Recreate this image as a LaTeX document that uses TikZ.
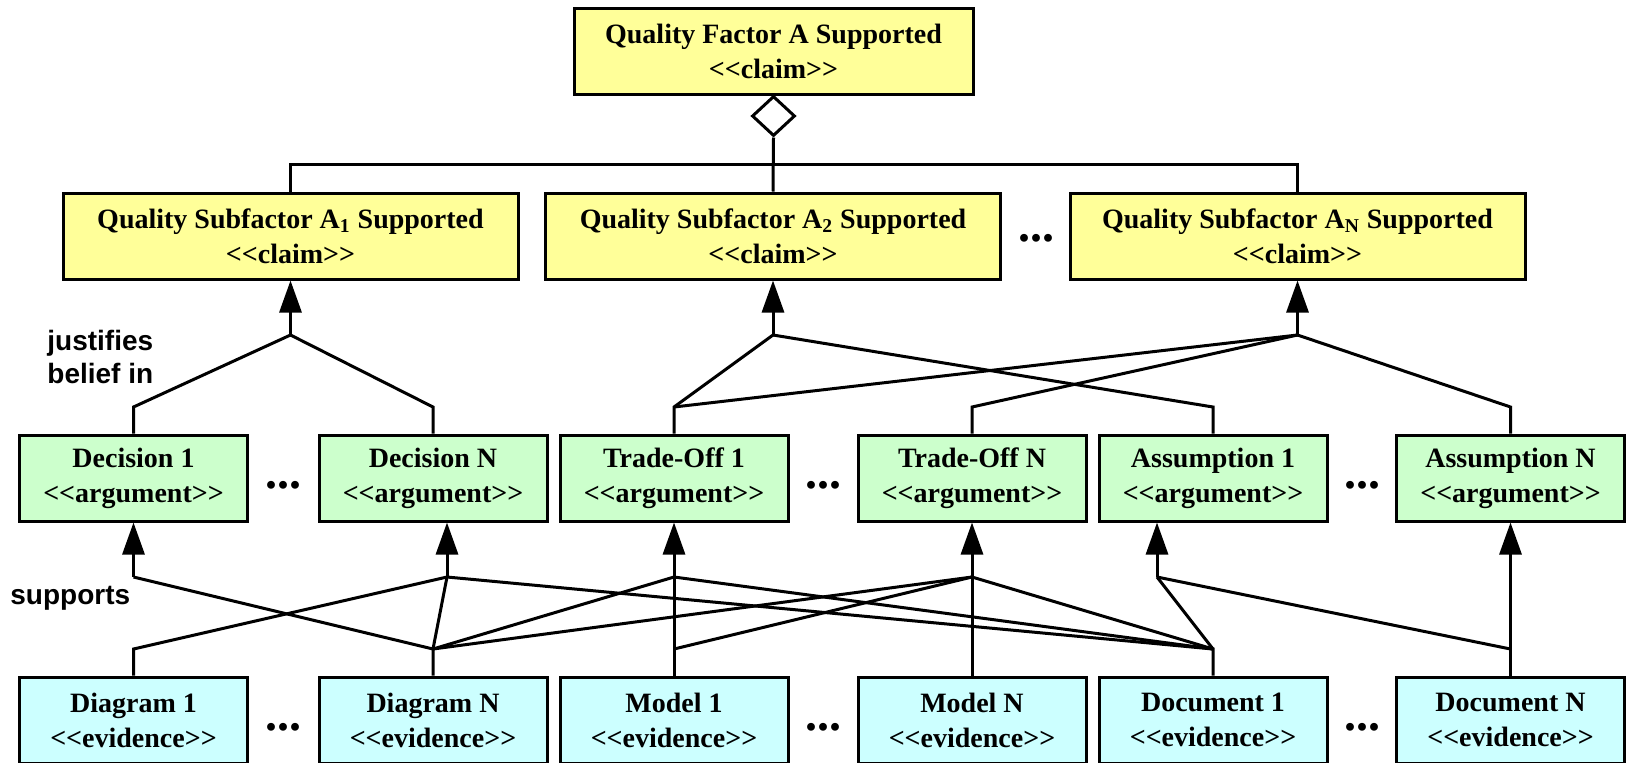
\documentclass[tikz,border=0pt]{standalone}
\usepackage{fontspec}
\setmainfont{Liberation Serif}[Ligatures=TeXOff]
\setsansfont{Liberation Sans}
\usepackage{tikz}
\usetikzlibrary{arrows.meta}
\usetikzlibrary{shapes.geometric}
\definecolor{claimyellow}{HTML}{FFFF99}
\definecolor{arggreen}{HTML}{CCFFCC}
\definecolor{evidcyan}{HTML}{CCFFFF}

\begin{document}
\begin{tikzpicture}[x=0.5pt, y=-0.5pt,
			boxnode/.style={draw, line width=1.5pt, align=center, inner sep=0pt, minimum height=43pt, font=\fontsize{14pt}{17.5pt}\selectfont\bfseries},
			claimnode/.style={boxnode, fill=claimyellow, minimum width=227.5pt},
			argnode/.style={boxnode, fill=arggreen, minimum width=114pt},
			evidnode/.style={boxnode, fill=evidcyan, minimum width=114pt},
			conn/.style={line width=1.5pt},
			arr/.style={conn, -{Triangle[length=16pt, width=11pt]}},
			dots/.style={font=\fontsize{24pt}{24pt}\selectfont\bfseries, inner sep=0pt},
			lbl/.style={font=\fontsize{14pt}{16.5pt}\selectfont\sffamily\bfseries, align=left, inner sep=0pt, anchor=west}
		]
		\useasboundingbox (0,0) rectangle (1631,762);

		\node[claimnode, minimum width=199.5pt] (qa) at (773.5,51) {Quality Factor A Supported\\<<claim>>};
		\node[draw, line width=1.5pt, fill=white, diamond, inner sep=0pt, minimum width=21.5pt, minimum height=20pt] (agg) at (773.5,116) {};

		\node[claimnode] (qa1) at (290.5,236) {Quality Subfactor A\textsubscript{1} Supported\\<<claim>>};
		\node[claimnode] (qa2) at (773,236) {Quality Subfactor A\textsubscript{2} Supported\\<<claim>>};
		\node[claimnode] (qan) at (1297.5,236) {Quality Subfactor A\textsubscript{N} Supported\\<<claim>>};
		\node[dots] (dq) at (1036,238) {...};

		\node[argnode] (dec1) at (133.5,478) {Decision 1\\<<argument>>};
		\node[argnode] (decn) at (433,478) {Decision N\\<<argument>>};
		\node[argnode] (tro1) at (674,478) {Trade-Off 1\\<<argument>>};
		\node[argnode] (tron) at (972,478) {Trade-Off N\\<<argument>>};
		\node[argnode] (asm1) at (1213,478) {Assumption 1\\<<argument>>};
		\node[argnode] (asmn) at (1510.5,478) {Assumption N\\<<argument>>};
		\node[dots] (da1) at (283,485) {...};
		\node[dots] (da2) at (823,485) {...};
		\node[dots] (da3) at (1362,485) {...};

		\node[evidnode] (dia1) at (133.5,720) {Diagram 1\\<<evidence>>};
		\node[evidnode] (dian) at (433,720) {Diagram N\\<<evidence>>};
		\node[evidnode] (mod1) at (674,720) {Model 1\\<<evidence>>};
		\node[evidnode] (modn) at (972,720) {Model N\\<<evidence>>};
		\node[evidnode] (doc1) at (1213,720) {Document 1\\<<evidence>>};
		\node[evidnode] (docn) at (1510.5,720) {Document N\\<<evidence>>};
		\node[dots] (de1) at (283,727) {...};
		\node[dots] (de2) at (823,727) {...};
		\node[dots] (de3) at (1362,727) {...};

		\node[lbl] (just) at (47,357) {justifies\\belief in};
		\node[lbl] (supp) at (10,598) {supports};

		\coordinate (bar) at (0,164);
		\coordinate (urow) at (0,407);
		\coordinate (lrow) at (0,649);
		\coordinate (ja1) at (290.5,335);
		\coordinate (ja2) at (773,335);
		\coordinate (jan) at (1297.5,335);
		\coordinate (jd1) at (133.5,577);
		\coordinate (jdn) at (447,577);
		\coordinate (jt1) at (674,577);
		\coordinate (jtn) at (972,577);
		\coordinate (js1) at (1157,577);
		\coordinate (jsn) at (1510.5,577);

		\coordinate (udec1) at (dec1.north |- urow);
		\coordinate (udecn) at (decn.north |- urow);
		\coordinate (utro1) at (tro1.north |- urow);
		\coordinate (utron) at (tron.north |- urow);
		\coordinate (uasm1) at (asm1.north |- urow);
		\coordinate (uasmn) at (asmn.north |- urow);
		\coordinate (ldia1) at (dia1.north |- lrow);
		\coordinate (ldian) at (dian.north |- lrow);
		\coordinate (lmod1) at (mod1.north |- lrow);
		\coordinate (ldoc1) at (doc1.north |- lrow);
		\coordinate (ldocn) at (docn.north |- lrow);

		\draw[conn] (agg.south) -- (qa2.north);
		\draw[conn] (qa1.north) -- (qa1.north |- bar) -- (qan.north |- bar) -- (qan.north);

		\draw[arr] (ja1) -- (qa1.south);
		\draw[arr] (ja2) -- (qa2.south);
		\draw[arr] (jan) -- (qan.south);

		\draw[conn] (dec1.north) -- (udec1) -- (ja1);
		\draw[conn] (decn.north) -- (udecn) -- (ja1);
		\draw[conn] (tro1.north) -- (utro1) -- (ja2);
		\draw[conn] (utro1) -- (jan);
		\draw[conn] (tron.north) -- (utron) -- (jan);
		\draw[conn] (asm1.north) -- (uasm1) -- (ja2);
		\draw[conn] (asmn.north) -- (uasmn) -- (jan);

		\draw[arr] (jd1) -- (dec1.south);
		\draw[arr] (jdn) -- (jdn |- decn.south);
		\draw[arr] (jt1) -- (tro1.south);
		\draw[arr] (jtn) -- (tron.south);
		\draw[arr] (js1) -- (js1 |- asm1.south);
		\draw[arr] (jsn) -- (asmn.south);

		\draw[conn] (dia1.north) -- (ldia1) -- (jdn);
		\draw[conn] (dian.north) -- (ldian) -- (jd1);
		\draw[conn] (ldian) -- (jdn);
		\draw[conn] (ldian) -- (jt1);
		\draw[conn] (ldian) -- (jtn);
		\draw[conn] (mod1.north) -- (jt1);
		\draw[conn] (lmod1) -- (jtn);
		\draw[conn] (modn.north) -- (jtn);
		\draw[conn] (doc1.north) -- (ldoc1) -- (jdn);
		\draw[conn] (ldoc1) -- (jt1);
		\draw[conn] (ldoc1) -- (jtn);
		\draw[conn] (ldoc1) -- (js1);
		\draw[conn] (docn.north) -- (jsn);
		\draw[conn] (ldocn) -- (js1);

	\end{tikzpicture}
\end{document}
